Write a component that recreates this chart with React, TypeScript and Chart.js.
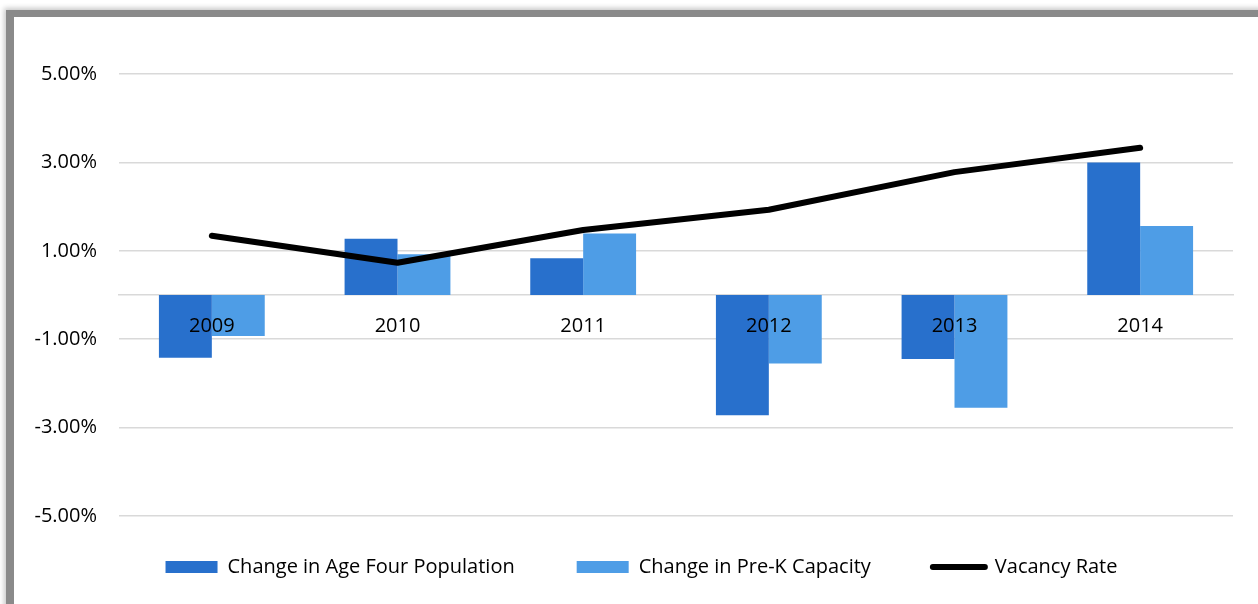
import React, { useEffect, useRef } from "react";
import { Chart, registerables } from "chart.js";

Chart.register(...registerables);

const years = ["2009", "2010", "2011", "2012", "2013", "2014"];
const ageFourChange = [-1.42, 1.27, 0.83, -2.72, -1.45, 3.0];
const preKCapacityChange = [-0.93, 0.92, 1.39, -1.55, -2.55, 1.56];
const vacancyRate = [1.34, 0.73, 1.47, 1.93, 2.78, 3.33];

const yMin = -5;
const yMax = 5;
const yStep = 2;

const FONT = "'Open Sans', Lato, sans-serif";

// shifts the legend box so that it sits where the reference puts it
const legendShift = {
  id: "legendShift",
  afterLayout(chart: any) {
    const lg = chart.legend;
    if (!lg) return;
    const dx = 18;
    const dy = -21;
    lg.left += dx;
    lg.right += dx;
    lg.top += dy;
    lg.bottom += dy;
  },
};

export default function App() {
  const canvasRef = useRef<HTMLCanvasElement | null>(null);

  useEffect(() => {
    document.body.style.margin = "0";
    document.body.style.overflow = "hidden";
    const ctx = canvasRef.current!.getContext("2d")!;
    const chart = new Chart(ctx, {
      type: "bar",
      data: {
        labels: years,
        datasets: [
          {
            type: "bar",
            label: "Change in Age Four Population",
            data: ageFourChange,
            backgroundColor: "#2870cc",
            borderWidth: 0,
            order: 1,
          },
          {
            type: "bar",
            label: "Change in Pre-K Capacity",
            data: preKCapacityChange,
            backgroundColor: "#4e9de6",
            borderWidth: 0,
            order: 1,
          },
          {
            type: "line",
            label: "Vacancy Rate",
            data: vacancyRate,
            borderColor: "#000000",
            backgroundColor: "#000000",
            borderWidth: 6,
            borderCapStyle: "round",
            borderJoinStyle: "round",
            pointRadius: 0,
            tension: 0,
            fill: false,
            order: 0,
          } as any,
        ],
      },
      plugins: [legendShift],
      options: {
        animation: false,
        responsive: false,
        maintainAspectRatio: false,
        layout: { padding: { top: 57, right: 25, left: 0, bottom: 0 } },
        datasets: {
          bar: { barPercentage: 1, categoryPercentage: 0.57 },
        },
        plugins: {
          tooltip: { enabled: false },
          legend: {
            position: "bottom",
            align: "center",
            labels: {
              color: "#000000",
              font: { family: FONT, size: 20 },
              usePointStyle: true,
              pointStyleWidth: 52,
              boxHeight: 12,
              padding: 62,
              sort: (a: any, b: any) => a.datasetIndex - b.datasetIndex,
              generateLabels: (chart: any) => {
                const items = Chart.defaults.plugins.legend.labels.generateLabels(chart);
                return items.map((it: any) => {
                  const ds = chart.data.datasets[it.datasetIndex];
                  if (ds.type === "line") {
                    return {
                      ...it,
                      pointStyle: "line",
                      lineWidth: 6,
                      strokeStyle: "#000000",
                      fillStyle: "#000000",
                      lineCap: "round",
                    };
                  }
                  return { ...it, pointStyle: "rect", lineWidth: 0 };
                });
              },
            },
          },
        },
        scales: {
          x: {
            position: { y: 0 } as any,
            grid: { display: false, drawTicks: false },
            border: { display: true, color: "#d9d9d9", width: 1.5 },
            ticks: {
              z: 1,
              color: "#000000",
              font: { family: FONT, size: 20 },
              padding: 19,
            },
          },
          y: {
            min: yMin,
            max: yMax,
            grid: { color: "#d9d9d9", lineWidth: 1.5, drawTicks: false },
            border: { display: false },
            afterFit: (axis: any) => {
              axis.width = 105;
            },
            ticks: {
              stepSize: yStep,
              color: "#000000",
              font: { family: FONT, size: 20 },
              padding: 22,
              callback: (v: any) => Number(v).toFixed(2) + "%",
            },
          },
        },
      },
    });
    return () => chart.destroy();
  }, []);

  return (
    <div>
      <div
        style={{
          position: "fixed",
          left: 6,
          top: 10,
          width: 1400,
          height: 800,
          borderTop: "7px solid #8a8a8a",
          borderLeft: "8px solid #8a8a8a",
          boxShadow: "0 0 5px 2px rgba(0,0,0,0.22)",
          background: "#ffffff",
        }}
      />
      <canvas
        ref={canvasRef}
        width={1244}
        height={591}
        style={{ position: "fixed", left: 14, top: 17, width: 1244, height: 591 }}
      />
    </div>
  );
}
